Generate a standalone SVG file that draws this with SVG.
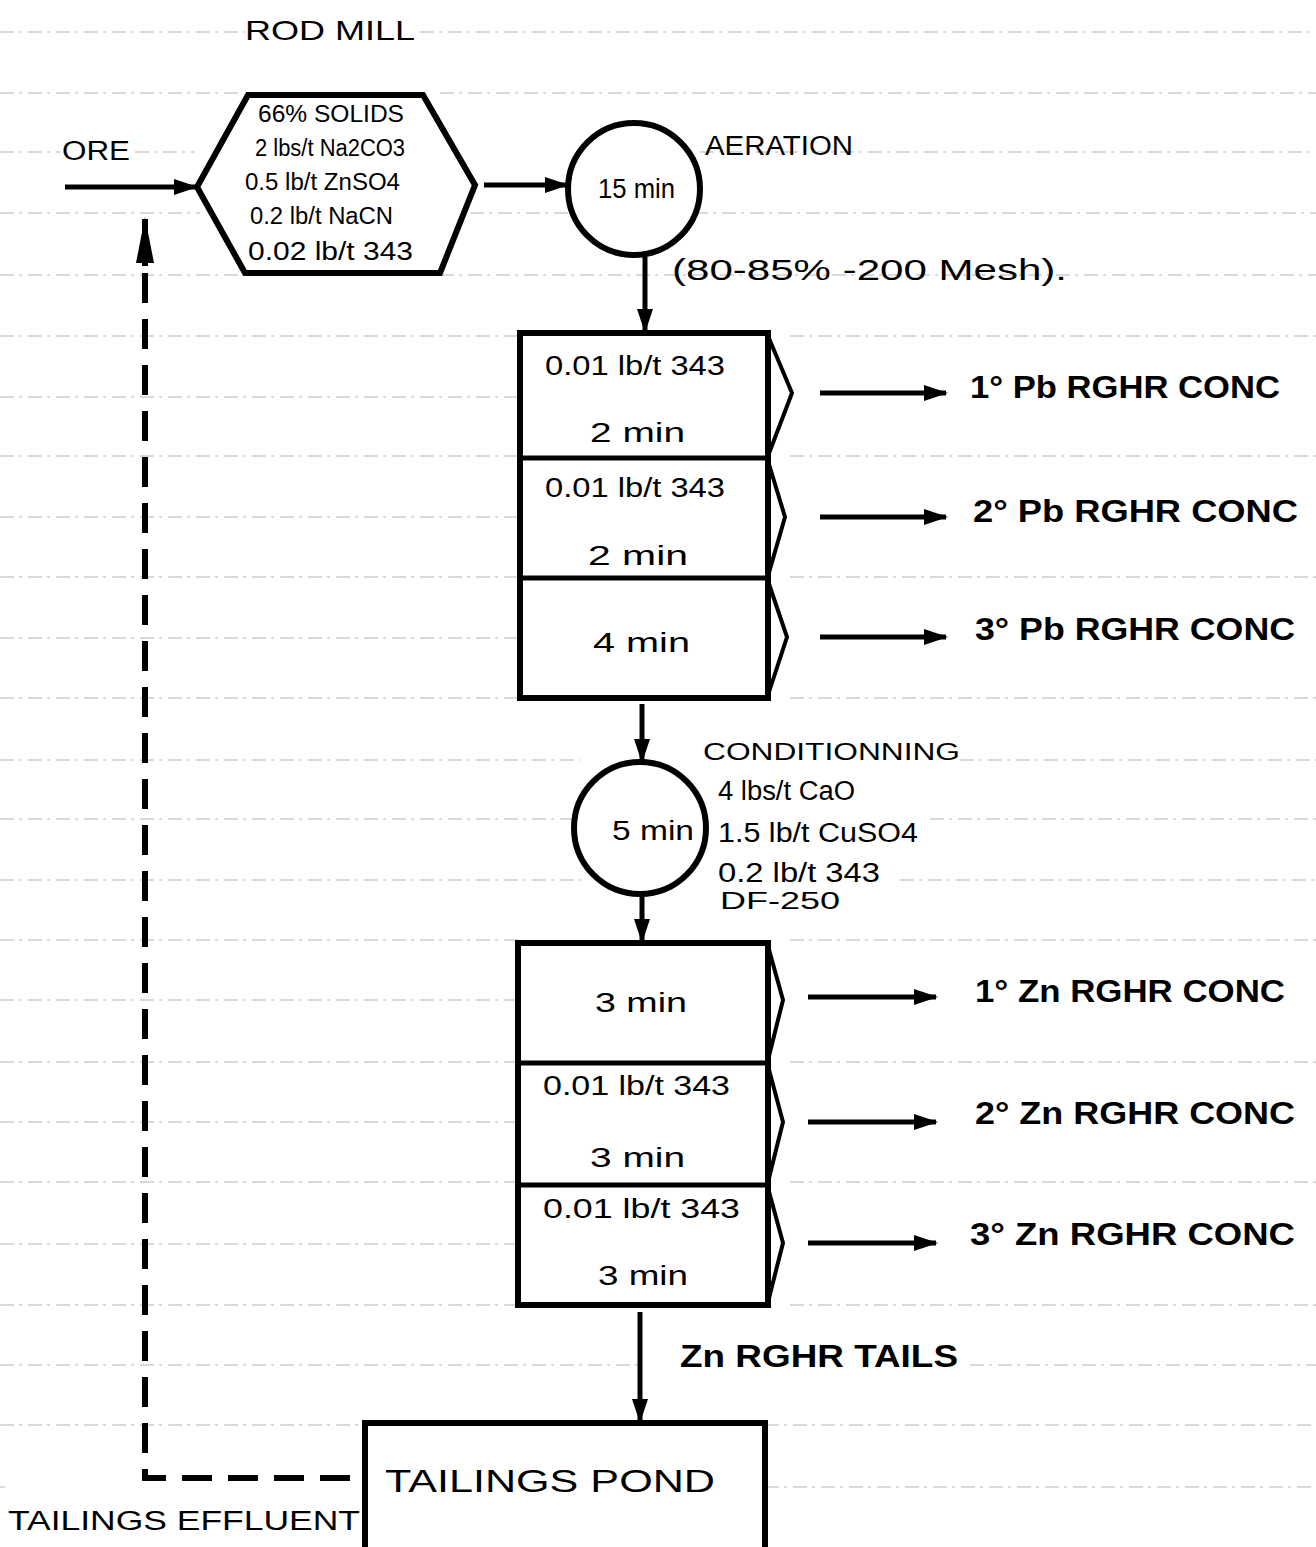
<svg xmlns="http://www.w3.org/2000/svg" width="1316" height="1547" viewBox="0 0 1316 1547">
<style>
.bg{fill:#fff}
.rule{stroke:#777;stroke-width:1.2;stroke-dasharray:14 5 3 6;opacity:.55;fill:none}
.box{fill:#fff;stroke:#000;stroke-width:6}
.thin{fill:none;stroke:#000;stroke-width:4;stroke-linejoin:miter}
.div{stroke:#000;stroke-width:5}
.arr{stroke:#000;stroke-width:5;fill:none;marker-end:url(#ah)}
.dash{stroke:#000;stroke-width:6;fill:none;stroke-dasharray:30 16}
text{font-family:"Liberation Sans",Arial,sans-serif;fill:#000}
.t{font-size:27px}
.h{font-size:23px}
.b{font-size:31px;font-weight:bold}
</style>
<defs>
<marker id="ah" markerUnits="userSpaceOnUse" markerWidth="24" markerHeight="16" refX="22" refY="8" orient="auto">
<path d="M0,0 L24,8 L0,16 Z" fill="#000"/>
</marker>
<marker id="ahup" markerUnits="userSpaceOnUse" markerWidth="46" markerHeight="22" refX="44" refY="11" orient="auto">
<path d="M0,2 L46,11 L0,20 Z" fill="#000"/>
</marker>
</defs>
<rect class="bg" x="0" y="0" width="1316" height="1547"/>
<g id="ruled-lines">
<path class="rule" d="M0,32H245M420,32H1316M0,93H240M440,93H1316M0,152H60M135,152H195M700,152H1316M0,213H200M470,213H1316M0,275H245M440,275H1316M0,336H520M790,336H1316M0,397H520M0,456H520M790,456H1316M0,517H520M0,577H520M790,577H1316M0,638H520M0,698H520M790,698H1316M0,760H580M960,760H1316M0,819H578M930,819H1316M0,880H585M900,880H1316M0,940H518M790,940H1316M0,1000H518M0,1062H518M790,1062H1316M0,1122H518M0,1182H518M790,1182H1316M0,1244H518M0,1305H518M790,1305H1316M0,1365H640M970,1365H1316M0,1425H365M765,1425H1316M0,1487H5M765,1487H1316"/>
</g>
<g id="connectors">
<line class="arr" x1="65" y1="187" x2="196" y2="187"/>
<line class="arr" x1="484" y1="185" x2="567" y2="185"/>
<line class="arr" x1="645" y1="257" x2="645" y2="331"/>
<line class="arr" x1="642" y1="704" x2="642" y2="761"/>
<line class="arr" x1="642" y1="896" x2="642" y2="941"/>
<line class="arr" x1="640" y1="1312" x2="640" y2="1421"/>
<line class="arr" x1="820" y1="393" x2="946" y2="393"/>
<line class="arr" x1="820" y1="517" x2="946" y2="517"/>
<line class="arr" x1="820" y1="637" x2="946" y2="637"/>
<line class="arr" x1="808" y1="997" x2="936" y2="997"/>
<line class="arr" x1="808" y1="1122" x2="936" y2="1122"/>
<line class="arr" x1="808" y1="1243" x2="936" y2="1243"/>
<path class="dash" d="M350,1478 H145 V266"/>
<line x1="145" y1="266" x2="145" y2="219" stroke="#000" stroke-width="6" marker-end="url(#ahup)"/>
<text class="t" x="8" y="1530" textLength="352" lengthAdjust="spacingAndGlyphs">TAILINGS EFFLUENT</text>
<text class="b" x="680" y="1367" textLength="278" lengthAdjust="spacingAndGlyphs">Zn RGHR TAILS</text>
</g>
<g id="rod-mill-label"><text x="245" y="40" font-size="28" textLength="170" lengthAdjust="spacingAndGlyphs">ROD MILL</text></g>
<g id="ore"><text class="t" x="62" y="160" textLength="68" lengthAdjust="spacingAndGlyphs">ORE</text></g>
<g id="rod-mill">
<polygon class="box" points="197,187 248,95 423,95 475,185 440,273 245,273"/>
<text class="h" x="258" y="122" textLength="146" lengthAdjust="spacingAndGlyphs">66% SOLIDS</text>
<text class="h" x="255" y="156" textLength="150" lengthAdjust="spacingAndGlyphs">2 lbs/t Na2CO3</text>
<text class="h" x="245" y="190" textLength="155" lengthAdjust="spacingAndGlyphs">0.5 lb/t ZnSO4</text>
<text class="h" x="250" y="224" textLength="143" lengthAdjust="spacingAndGlyphs">0.2 lb/t NaCN</text>
<text x="248" y="260" font-size="25" textLength="165" lengthAdjust="spacingAndGlyphs">0.02 lb/t 343</text>
</g>
<g id="aeration">
<circle class="box" cx="634" cy="189" r="66"/>
<text class="t" x="598" y="198" textLength="77" lengthAdjust="spacingAndGlyphs">15 min</text>
<text class="t" x="705" y="155" textLength="148" lengthAdjust="spacingAndGlyphs">AERATION</text>
<text x="672" y="280" font-size="29" textLength="395" lengthAdjust="spacingAndGlyphs">(80-85% -200 Mesh).</text>
</g>
<g id="pb-rougher">
<rect class="box" x="520" y="333" width="248" height="365"/>
<line class="div" x1="520" y1="458" x2="768" y2="458"/>
<line class="div" x1="520" y1="578" x2="768" y2="578"/>
<polyline class="thin" points="768,336 792,393 768,456"/>
<polyline class="thin" points="768,461 785,517 768,576"/>
<polyline class="thin" points="768,581 787,637 768,695"/>
<text class="t" x="545" y="375" textLength="180" lengthAdjust="spacingAndGlyphs">0.01 lb/t 343</text>
<text class="t" x="590" y="442" textLength="95" lengthAdjust="spacingAndGlyphs">2 min</text>
<text class="t" x="545" y="497" textLength="180" lengthAdjust="spacingAndGlyphs">0.01 lb/t 343</text>
<text class="t" x="588" y="565" textLength="100" lengthAdjust="spacingAndGlyphs">2 min</text>
<text class="t" x="593" y="652" textLength="97" lengthAdjust="spacingAndGlyphs">4 min</text>
</g>
<g id="pb-conc-1"><text class="b" x="970" y="398" textLength="310" lengthAdjust="spacingAndGlyphs">1° Pb RGHR CONC</text></g>
<g id="pb-conc-2"><text class="b" x="973" y="522" textLength="325" lengthAdjust="spacingAndGlyphs">2° Pb RGHR CONC</text></g>
<g id="pb-conc-3"><text class="b" x="975" y="640" textLength="320" lengthAdjust="spacingAndGlyphs">3° Pb RGHR CONC</text></g>
<g id="conditioning">
<circle class="box" cx="640" cy="828" r="66"/>
<text class="t" x="612" y="840" textLength="82" lengthAdjust="spacingAndGlyphs">5 min</text>
<text class="h" x="703" y="760" textLength="257" lengthAdjust="spacingAndGlyphs">CONDITIONNING</text>
<text class="t" x="718" y="800" textLength="137" lengthAdjust="spacingAndGlyphs">4 lbs/t CaO</text>
<text class="t" x="718" y="842" textLength="200" lengthAdjust="spacingAndGlyphs">1.5 lb/t CuSO4</text>
<text class="t" x="718" y="882" textLength="162" lengthAdjust="spacingAndGlyphs">0.2 lb/t 343</text>
<text class="h" x="720" y="909" textLength="120" lengthAdjust="spacingAndGlyphs">DF-250</text>
</g>
<g id="zn-rougher">
<rect class="box" x="518" y="943" width="250" height="362"/>
<line class="div" x1="518" y1="1063" x2="768" y2="1063"/>
<line class="div" x1="518" y1="1185" x2="768" y2="1185"/>
<polyline class="thin" points="768,946 783,1000 768,1060"/>
<polyline class="thin" points="768,1066 783,1122 768,1182"/>
<polyline class="thin" points="768,1188 783,1243 768,1302"/>
<text class="t" x="595" y="1012" textLength="92" lengthAdjust="spacingAndGlyphs">3 min</text>
<text class="t" x="543" y="1095" textLength="187" lengthAdjust="spacingAndGlyphs">0.01 lb/t 343</text>
<text class="t" x="590" y="1167" textLength="95" lengthAdjust="spacingAndGlyphs">3 min</text>
<text class="t" x="543" y="1218" textLength="197" lengthAdjust="spacingAndGlyphs">0.01 lb/t 343</text>
<text class="t" x="598" y="1285" textLength="90" lengthAdjust="spacingAndGlyphs">3 min</text>
</g>
<g id="zn-conc-1"><text class="b" x="975" y="1002" textLength="310" lengthAdjust="spacingAndGlyphs">1° Zn RGHR CONC</text></g>
<g id="zn-conc-2"><text class="b" x="975" y="1124" textLength="320" lengthAdjust="spacingAndGlyphs">2° Zn RGHR CONC</text></g>
<g id="zn-conc-3"><text class="b" x="970" y="1245" textLength="325" lengthAdjust="spacingAndGlyphs">3° Zn RGHR CONC</text></g>
<g id="tailings-pond">
<rect class="box" x="365" y="1423" width="400" height="140"/>
<text x="385" y="1492" font-size="32" textLength="330" lengthAdjust="spacingAndGlyphs">TAILINGS POND</text>
</g>
</svg>
